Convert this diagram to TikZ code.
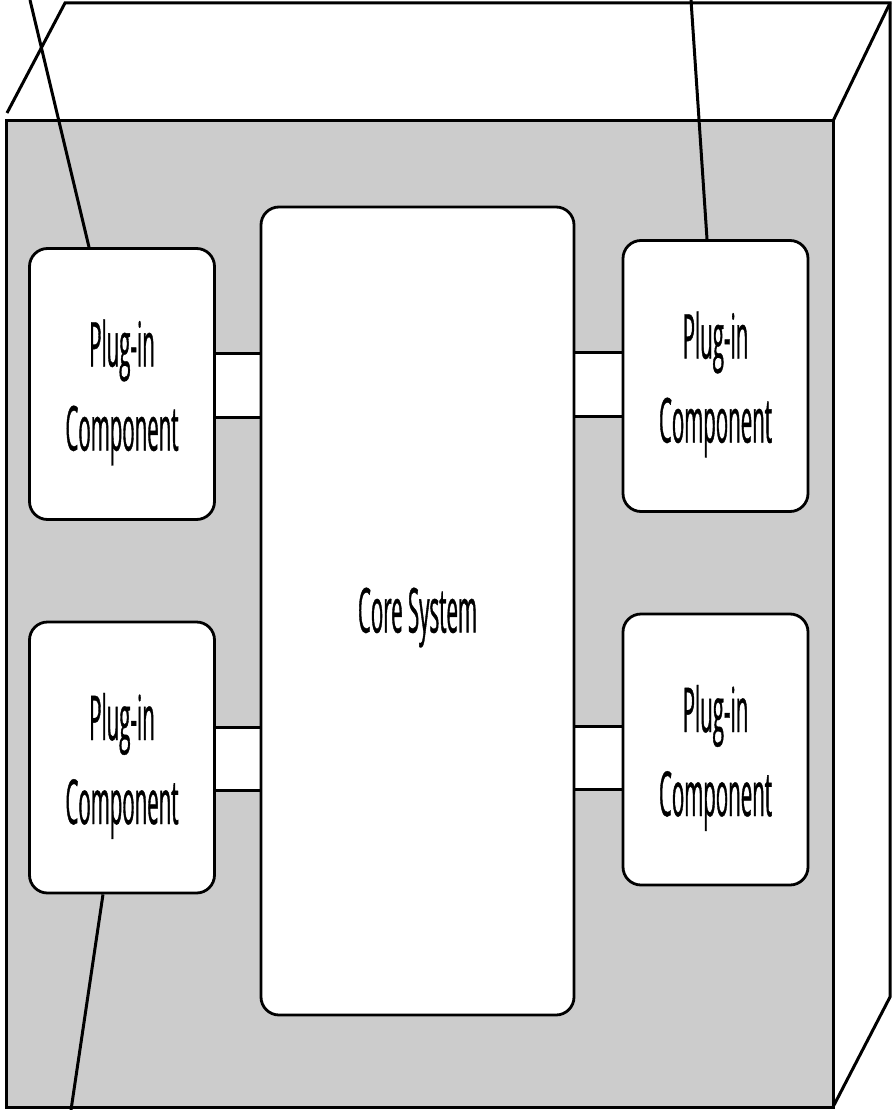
\documentclass[tikz,border=0pt]{standalone}
\usepackage{fontspec}
\usepackage{tikz}
\usetikzlibrary{backgrounds}
\newfontfamily\plugfont[FakeStretch=0.33,FakeBold=0.6]{Open Sans}

\begin{document}
\begin{tikzpicture}[x=1pt,y=-1pt,
    box/.style={draw=black,line width=2.8pt,fill=white,rounded corners=18pt,
      inner sep=0pt,align=center,font=\plugfont\fontsize{62}{84}\selectfont},
    edge/.style={line width=3pt}]
  \definecolor{face}{RGB}{204,204,204}
  \useasboundingbox (0,0) rectangle (891,1110);
  % core and plug-ins
  \node[box,minimum width=313,minimum height=808] (core) at (417.5,611) {\rule{0pt}{58pt}Core System};
  \foreach \n/\x/\y in {pa/122/384, pb/715.5/376, pc/122/757.5, pd/715.5/749.5}
    \node[box,minimum width=185,minimum height=271] (\n) at (\x,\y) {\rule{0pt}{64pt}Plug-in\\Component};
  \begin{scope}[on background layer]
    % front face
    \fill[face] (6,121) rectangle (833,1107);
    % sockets
    \foreach \l/\r/\ya/\yb in {pa/core/353/417, core/pb/352/416, pc/core/727/790, core/pd/726/789} {
      \fill[white] (\l.east |- 0,\ya) rectangle (\r.west |- 0,\yb);
      \draw[edge] (\l.east |- 0,\ya) -- (\r.west |- 0,\ya);
      \draw[edge] (\l.east |- 0,\yb) -- (\r.west |- 0,\yb);
    }
  \end{scope}
  % box edges
  \draw[edge] (6,121) rectangle (833,1107);
  \draw[edge] (7,113) -- (65,3) -- (890,3) -- (890,997) -- (833,1107);
  \draw[edge] (890,3) -- (833,121);
  % leader lines
  \coordinate (ta) at (30,0);
  \coordinate (tb) at (691,0);
  \coordinate (tc) at (71,1110);
  \draw[edge] (ta) -- ([xshift=-33]pa.north);
  \draw[edge] (tb) -- ([xshift=-8.5]pb.north);
  \draw[edge] (tc) -- ([xshift=-19]pc.south);
\end{tikzpicture}
\end{document}
